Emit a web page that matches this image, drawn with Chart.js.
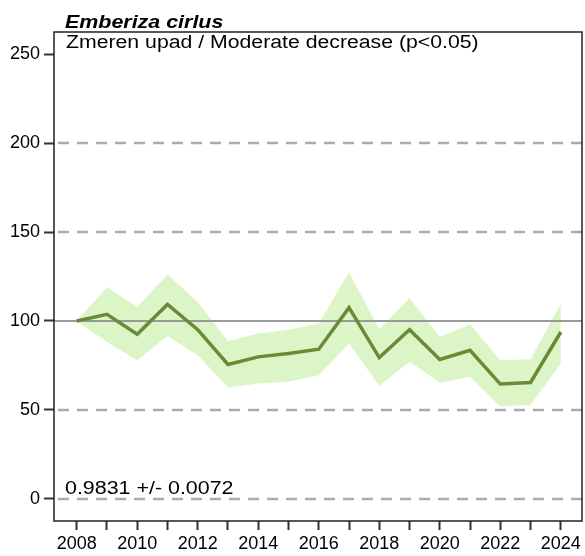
<!DOCTYPE html>
<html>
<head>
<meta charset="utf-8">
<script src="https://cdn.jsdelivr.net/npm/chart.js@4"></script>
<style>
  html, body { margin: 0; padding: 0; background: #fff; }
  #wrap { width: 585px; height: 556px; position: relative; }
</style>
</head>
<body>
<div id="wrap"><canvas id="c" width="585" height="556"></canvas></div>
<script>
const years = [2008,2009,2010,2011,2012,2013,2014,2015,2016,2017,2018,2019,2020,2021,2022,2023,2024];
const indexValues = [100,103.7,92.5,109.3,95.1,75.5,79.8,81.7,84.1,107.5,79.4,95.1,78.3,83.5,64.5,65.4,93.8];
const upperValues = [100,119,107.8,126.1,110.6,88.6,92.9,95.1,98.5,127.4,95.3,112.8,91,98.1,77.9,78.5,109.7];
const lowerValues = [100,88.2,77.9,91.5,80.7,62.6,64.8,65.8,69.5,87.3,63.5,77,65.2,68.6,52.1,52.7,76.1];
const yTickValues = [0,50,100,150,200,250];
const dashedGridValues = [0,50,150,200];
const referenceValue = 100;
const speciesName = 'Emberiza cirlus';
const trendLabel = 'Zmeren upad / Moderate decrease (p<0.05)';
const slopeLabel = '0.9831 +/- 0.0072';

const FONT = "'Liberation Sans', Arial, sans-serif";
const toPts = arr => years.map((x, i) => ({ x, y: arr[i] }));

function stretchedText(ctx, text, x, y, sx) {
  ctx.save();
  ctx.translate(x, y);
  ctx.scale(sx, 1);
  ctx.fillText(text, 0, 0);
  ctx.restore();
}

const overlay = {
  id: 'overlay',
  beforeDatasetDraw(chart, args) {
    if (args.index !== 2) return;
    const { ctx, chartArea: a, scales: { y } } = chart;
    ctx.save();
    ctx.beginPath();
    ctx.rect(a.left, a.top, a.right - a.left, a.bottom - a.top);
    ctx.clip();
    ctx.strokeStyle = '#ababab';
    ctx.lineWidth = 2.5;
    ctx.setLineDash([11, 8]);
    dashedGridValues.forEach(v => {
      const py = Math.round(y.getPixelForValue(v));
      ctx.beginPath();
      ctx.moveTo(a.left + 4, py);
      ctx.lineTo(a.right, py);
      ctx.stroke();
    });
    ctx.setLineDash([]);
    ctx.strokeStyle = '#999999';
    ctx.lineWidth = 2;
    const ry = Math.round(y.getPixelForValue(referenceValue));
    ctx.beginPath();
    ctx.moveTo(a.left, ry);
    ctx.lineTo(a.right, ry);
    ctx.stroke();
    ctx.restore();
  },
  afterDraw(chart) {
    const { ctx, chartArea: a } = chart;
    ctx.save();
    ctx.strokeStyle = '#222';
    ctx.lineWidth = 1.5;
    ctx.strokeRect(a.left, a.top, a.right - a.left, a.bottom - a.top);
    ctx.fillStyle = '#000';
    ctx.textBaseline = 'alphabetic';
    ctx.textAlign = 'left';
    ctx.font = 'italic bold 18px ' + FONT;
    stretchedText(ctx, speciesName, 65, 28, 1.19);
    ctx.font = '18px ' + FONT;
    stretchedText(ctx, trendLabel, 66, 48, 1.18);
    stretchedText(ctx, slopeLabel, 65, 494, 1.19);
    ctx.restore();
  }
};

new Chart(document.getElementById('c'), {
  type: 'line',
  data: {
    datasets: [
      { data: toPts(upperValues), borderWidth: 0, pointRadius: 0, backgroundColor: 'rgba(214,243,188,0.85)', fill: '+1', order: 2, tension: 0 },
      { data: toPts(lowerValues), borderWidth: 0, pointRadius: 0, fill: false, order: 2, tension: 0 },
      { data: toPts(indexValues), borderColor: '#6b8a38', borderWidth: 3.5, pointRadius: 0, fill: false, order: 1, tension: 0, borderJoinStyle: 'miter' }
    ]
  },
  options: {
    responsive: false,
    animation: false,
    devicePixelRatio: 1,
    layout: { padding: { top: 32, right: 3, left: 0, bottom: 0 } },
    plugins: { legend: { display: false }, tooltip: { enabled: false }, title: { display: false } },
    scales: {
      x: {
        type: 'linear',
        min: 2007.25,
        max: 2024.7,
        afterBuildTicks: s => { s.ticks = years.map(v => ({ value: v })); },
        afterFit: s => { s.height = 35; },
        ticks: {
          autoSkip: false, maxRotation: 0, padding: 3,
          color: '#000', font: { family: FONT, size: 18 },
          callback: v => (v % 2 === 0 ? String(v) : '')
        },
        grid: { drawOnChartArea: false, drawTicks: true, tickLength: 9, tickColor: '#333', tickWidth: 2 },
        border: { display: false }
      },
      y: {
        min: -12.5,
        max: 262.5,
        afterBuildTicks: s => { s.ticks = yTickValues.map(v => ({ value: v })); },
        afterFit: s => { s.width = 54; },
        ticks: { padding: 4, color: '#000', font: { family: FONT, size: 18 } },
        grid: { drawOnChartArea: false, drawTicks: true, tickLength: 10, tickColor: '#333', tickWidth: 2 },
        border: { display: false }
      }
    }
  },
  plugins: [overlay]
});
</script>
</body>
</html>
